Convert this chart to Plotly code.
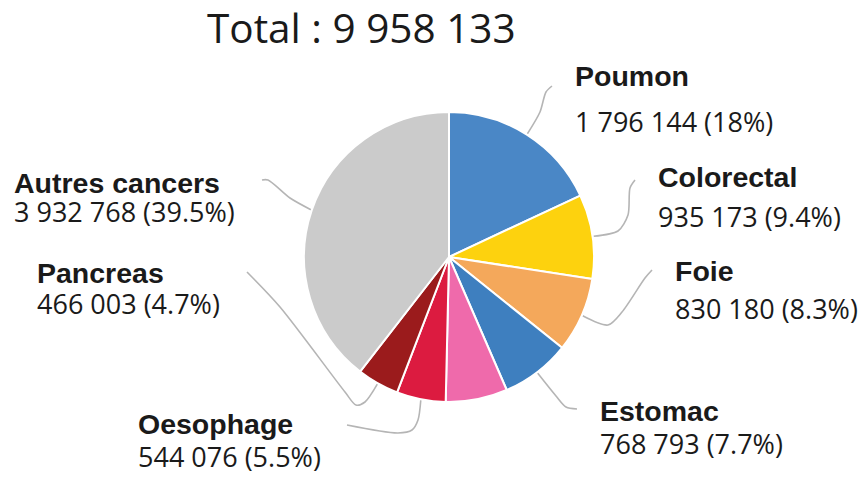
import math
import plotly.graph_objects as go

# Décès par cancer dans le monde (2020)
sites = ["Poumon", "Colorectal", "Foie", "Estomac", "Sein", "Oesophage", "Pancreas", "Autres cancers"]
deaths = [1796144, 935173, 830180, 768793, 684996, 544076, 466003, 3932768]
colors = ["#4a87c6", "#fdd20e", "#f4a85b", "#3e7fbf", "#ef6aab", "#dc1b40", "#9b1b1c", "#cbcbcb"]
labelled = [True, True, True, True, False, True, True, True]

W, H = 862, 479
CX, CY, R = 449, 257, 145  # pie centre and radius in pixels

total = sum(deaths)


def spaced(n):
    return f"{n:,}".replace(",", " ")


def pct(v):
    p = round(100 * v / total, 1)
    return f"{p:g}%"


# label anchor: left x, name line y, value line y
label_pos = {
    "Poumon": (573, 76, 122),
    "Colorectal": (656, 177, 217),
    "Foie": (673, 271, 309),
    "Estomac": (598, 411, 444),
    "Oesophage": (136, 424, 457),
    "Pancreas": (35, 273, 304),
    "Autres cancers": (12, 183, 212),
}
leader_knots = {
    "Poumon": [(540, 112), (546, 92), (552, 86)],
    "Colorectal": [(618, 231), (628, 215), (630, 188), (635, 180)],
    "Foie": [(608, 325), (622, 312), (645, 278), (652, 270)],
    "Estomac": [(556, 396), (566, 407), (577, 409)],
    "Oesophage": [(418, 420), (412, 430), (398, 433), (347, 425)],
    "Pancreas": [(365, 402), (356, 405), (345, 392), (280, 307), (247, 272)],
    "Autres cancers": [(290, 198), (268, 180), (262, 180)],
}

NAME_FONT = "Liberation Sans, Arial, sans-serif"
VALUE_FONT = "Open Sans, sans-serif"

fig = go.Figure()

fig.add_trace(go.Pie(
    labels=sites,
    values=deaths,
    sort=False,
    direction="clockwise",
    rotation=0,
    marker=dict(colors=colors, line=dict(color="white", width=2)),
    textinfo="none",
    hoverinfo="label+value+percent",
    showlegend=False,
    domain=dict(x=[(CX - R) / W, (CX + R) / W], y=[1 - (CY + R) / H, 1 - (CY - R) / H]),
))

# leader lines from each slice's mid-angle on the rim
cum = 0
for site, v, lab in zip(sites, deaths, labelled):
    mid = (cum + v / 2) / total * 2 * math.pi
    cum += v
    if not lab:
        continue
    sx = CX + (R + 1) * math.sin(mid)
    sy = CY - (R + 1) * math.cos(mid)
    pts = [(sx, sy)] + leader_knots[site]
    fig.add_trace(go.Scatter(
        x=[p[0] for p in pts], y=[p[1] for p in pts],
        mode="lines", line=dict(color="#b5b5b5", width=1.6, shape="spline", smoothing=0.8),
        hoverinfo="skip", showlegend=False,
    ))

annotations = []
for site, v, lab in zip(sites, deaths, labelled):
    if not lab:
        continue
    x, yn, yv = label_pos[site]
    gap = yv - yn
    text = (
        f"<span style='font-family:{NAME_FONT};font-size:28.5px;font-weight:bold'>{site}</span><br>"
        f"<span style='font-family:{VALUE_FONT};font-size:27px'>{spaced(v)} ({pct(v)})</span>"
    )
    annotations.append(dict(
        x=x, y=(yn + yv) / 2 + 1, xref="x", yref="y", xanchor="left", yanchor="middle",
        align="left", text=text, showarrow=False,
        font=dict(family=VALUE_FONT, size=gap / 1.3, color="#1a1a1a"),
    ))

annotations.append(dict(
    x=361, y=27, xref="x", yref="y", xanchor="center", yanchor="middle",
    text=f"Total : {spaced(total)}", showarrow=False,
    font=dict(family=VALUE_FONT, size=40.5, color="#1a1a1a"),
))

fig.update_layout(
    width=W, height=H,
    margin=dict(l=0, r=0, t=0, b=0),
    paper_bgcolor="white", plot_bgcolor="white",
    xaxis=dict(range=[0, W], visible=False, domain=[0, 1], fixedrange=True),
    yaxis=dict(range=[H, 0], visible=False, domain=[0, 1], fixedrange=True),
    annotations=annotations,
    showlegend=False,
)

fig.write_html("out.html")
